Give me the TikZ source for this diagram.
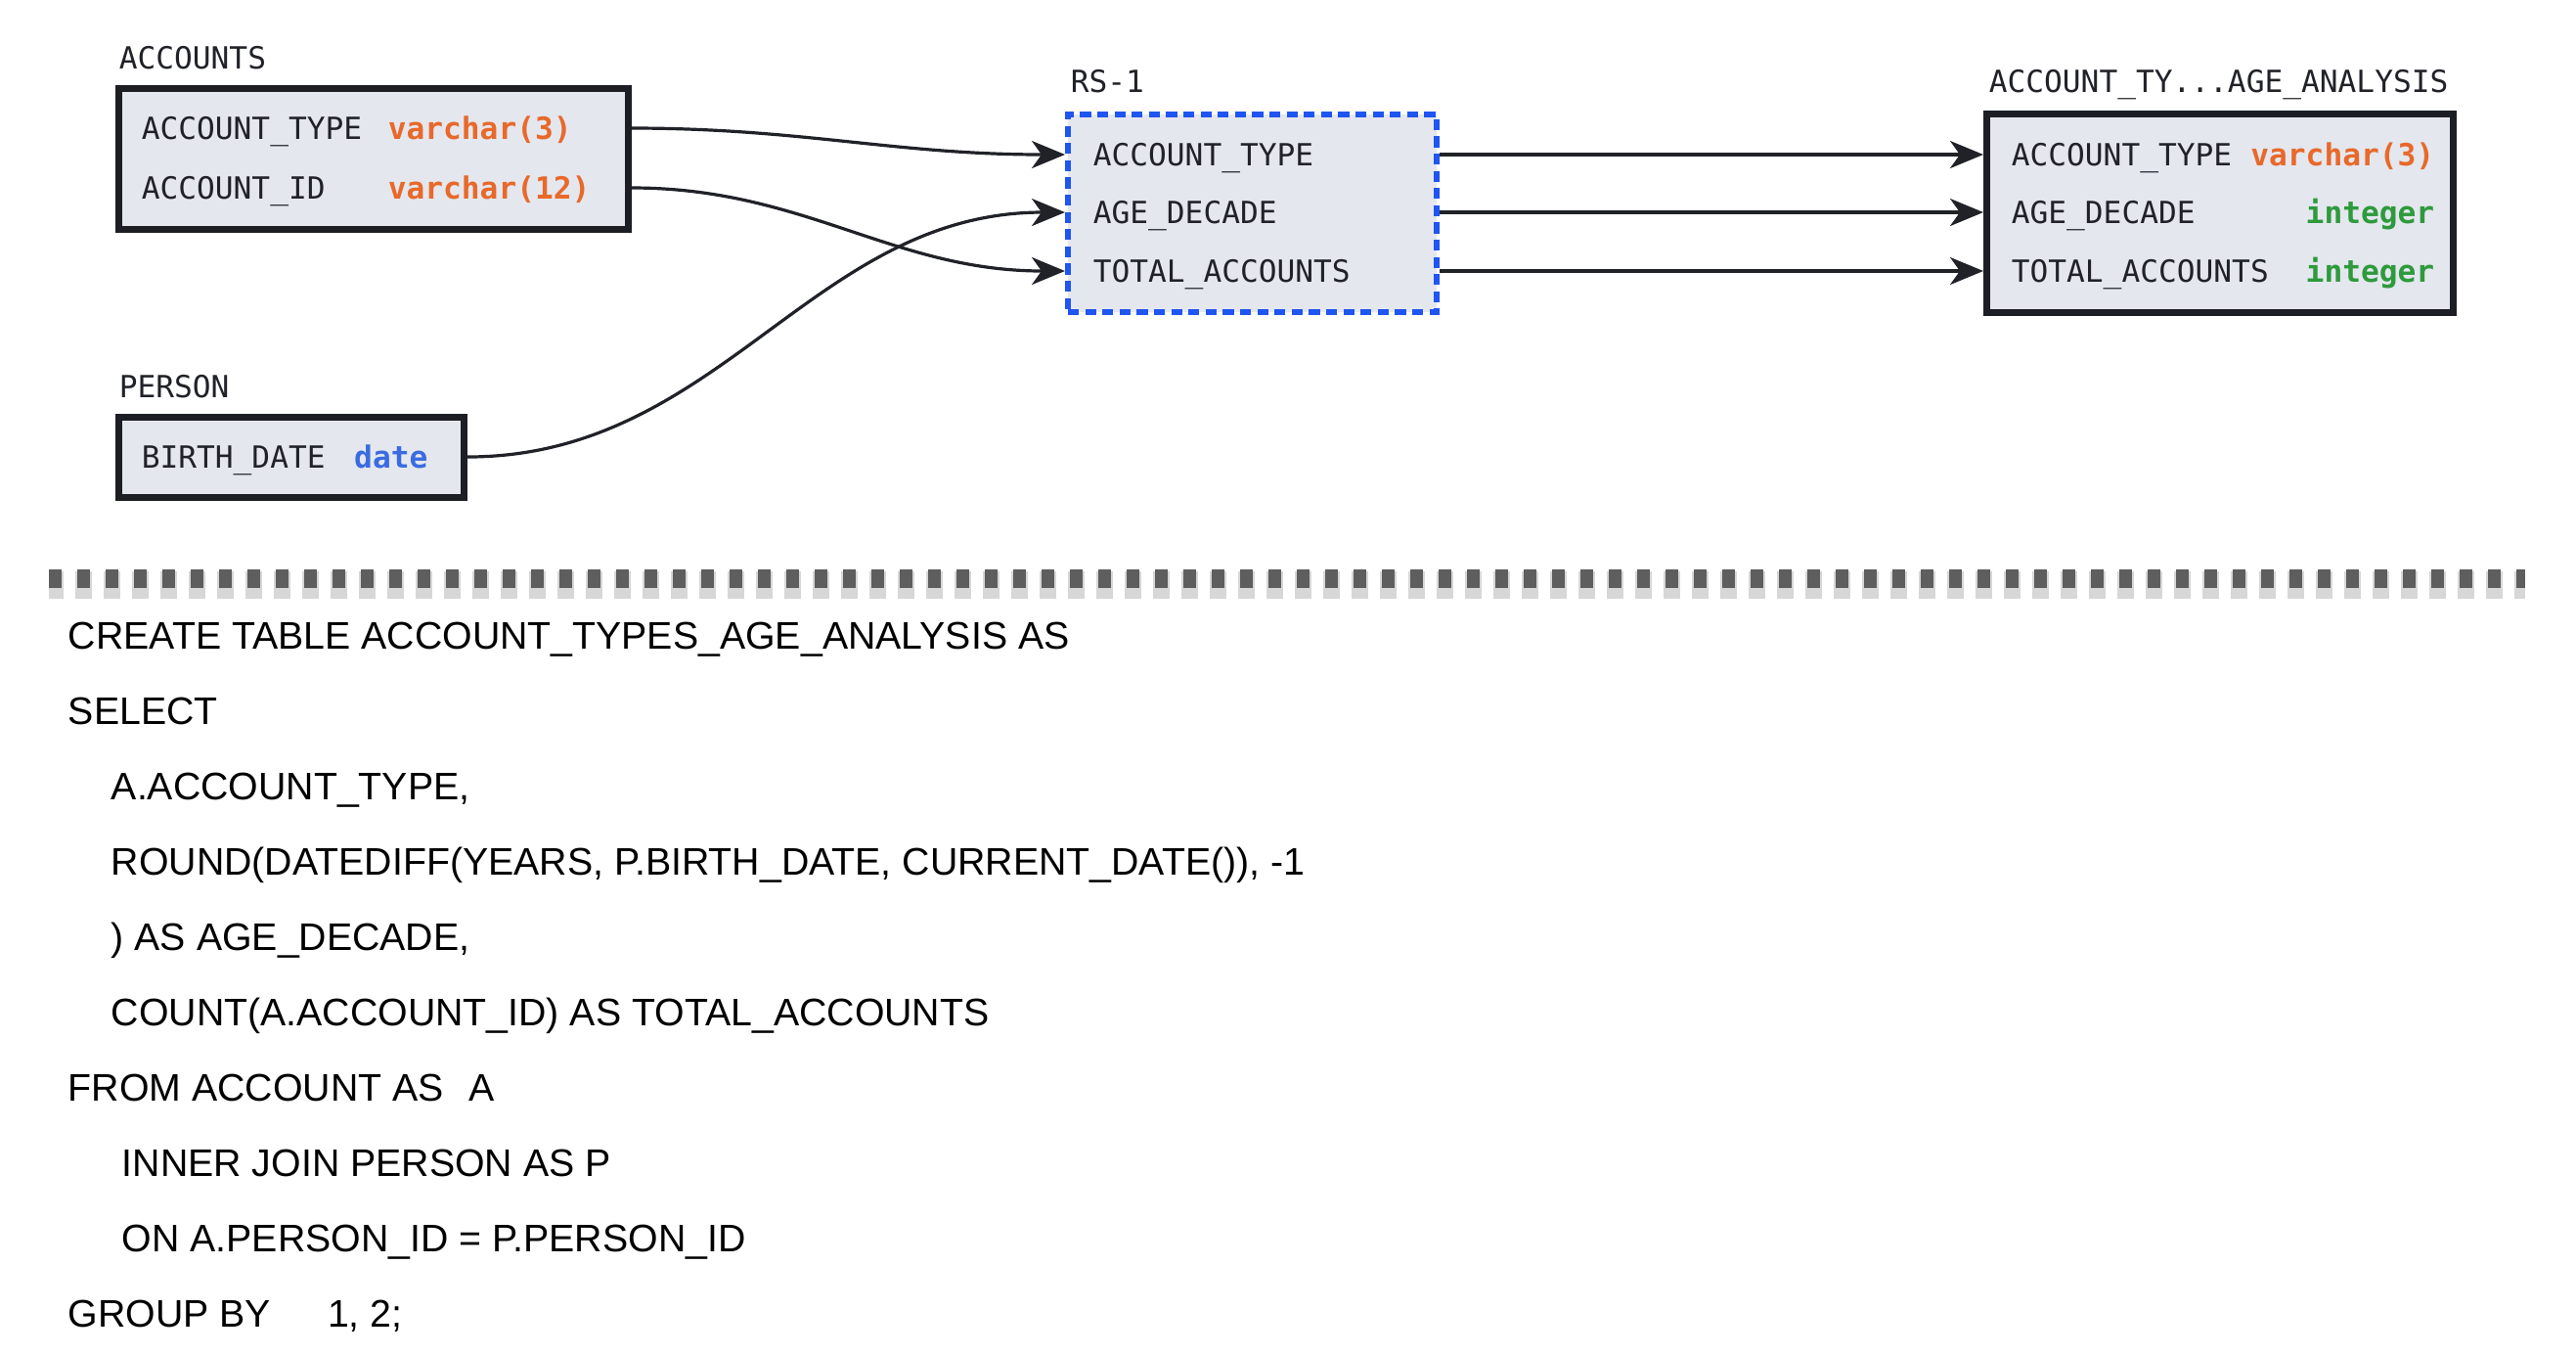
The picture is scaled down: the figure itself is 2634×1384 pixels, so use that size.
\documentclass[tikz,border=0pt]{standalone}
\usepackage{fontspec}
\setmainfont{Liberation Sans}
\newfontfamily\colfont{DejaVu Sans Mono}
\usetikzlibrary{arrows.meta,positioning}

\definecolor{boxfill}{HTML}{E4E7EE}
\definecolor{boxline}{HTML}{1C1E24}
\definecolor{ink}{HTML}{202228}
\definecolor{typeorange}{HTML}{E8692A}
\definecolor{typegreen}{HTML}{2E9A3C}
\definecolor{typeblue}{HTML}{3A6BE0}
\definecolor{rsblue}{HTML}{1F55F0}
\definecolor{sepgray}{HTML}{5E5E5E}

\tikzset{
  tablebox/.style={draw=boxline, fill=boxfill, line width=1.7pt, inner sep=0pt, anchor=north west},
  rsbox/.style={draw=rsblue, fill=boxfill, line width=1.5pt, dash pattern=on 2.8pt off 1.6pt, inner sep=0pt, anchor=north west},
  colname/.style={font=\fontsize{7.8}{9}\selectfont\colfont, text=ink, inner sep=0pt, text height=5.7pt, text depth=0pt, anchor=west},
  coltype/.style={colname, font=\fontsize{7.8}{9}\selectfont\colfont\bfseries, text=#1},
  tabletitle/.style={colname, anchor=south west},
  flow/.style={draw=ink, line width=0.8pt, -{Stealth[length=8.5pt, width=7pt, inset=2.5pt]}},
  sqlline/.style={font=\fontsize{9.82}{11}\selectfont, text=black, inner sep=0pt, text height=7pt, text depth=0pt, anchor=west},
}

\begin{document}
\begin{tikzpicture}[x=0.25pt, y=-0.25pt]
  \useasboundingbox (0,0) rectangle (2634,1384);

  % source tables
  \node[tablebox, minimum width=130.3pt, minimum height=36pt] (accounts) at (118,87) {};
  \node[tabletitle] (accounts-title) at ([shift={(0.75pt,4pt)}]accounts.north west) {ACCOUNTS};
  \node[colname] (acc-type) at (144,131) {ACCOUNT\_TYPE};
  \node[coltype=typeorange] (acc-type-t) at (396,131) {varchar(3)};
  \node[colname] (acc-id) at (144,192) {ACCOUNT\_ID};
  \node[coltype=typeorange] (acc-id-t) at (396,192) {varchar(12)};

  \node[tablebox, minimum width=88.3pt, minimum height=20.5pt] (person) at (118,423) {};
  \node[tabletitle] (person-title) at ([shift={(0.75pt,4pt)}]person.north west) {PERSON};
  \node[colname] (per-birth) at (144,467) {BIRTH\_DATE};
  \node[coltype=typeblue, right=7pt of per-birth] (per-birth-t) {date};

  % result set
  \node[rsbox, minimum width=94.3pt, minimum height=50.5pt] (rs1) at (1089,114) {};
  \node[tabletitle] (rs1-title) at ([shift={(1.25pt,4.6pt)}]rs1.north west) {RS-1};
  \node[colname] (rs-type) at (1117,158) {ACCOUNT\_TYPE};
  \node[colname] (rs-decade) at (1117,217) {AGE\_DECADE};
  \node[colname] (rs-total) at (1117,277) {TOTAL\_ACCOUNTS};

  % target table
  \node[tablebox, minimum width=119.3pt, minimum height=50.8pt] (result) at (2028,113) {};
  \node[tabletitle] (result-title) at ([shift={(1.25pt,4.4pt)}]result.north west) {ACCOUNT\_TY...AGE\_ANALYSIS};
  \node[colname] (res-type) at (2056,158) {ACCOUNT\_TYPE};
  \node[coltype=typeorange, anchor=east] (res-type-t) at (2490,158) {varchar(3)};
  \node[colname] (res-decade) at (2056,217) {AGE\_DECADE};
  \node[coltype=typegreen, anchor=east] (res-decade-t) at (2490,217) {integer};
  \node[colname] (res-total) at (2056,277) {TOTAL\_ACCOUNTS};
  \node[coltype=typegreen, anchor=east] (res-total-t) at (2490,277) {integer};

  % lineage
  \draw[flow] (accounts.east |- acc-type) to[out=0, in=180] (rs1.west |- rs-type);
  \draw[flow] (accounts.east |- acc-id) to[out=0, in=180] (rs1.west |- rs-total);
  \draw[flow] (person.east |- per-birth) to[out=0, in=180] (rs1.west |- rs-decade);
  \foreach \row in {type,decade,total}
    \draw[flow] (rs1.east |- rs-\row) -- (result.west |- res-\row);

  % separator
  \draw[sepgray, opacity=.25, line width=7pt, dash pattern=on 4.25pt off 3pt, dash phase=.5pt] (50,598) -- (2582,598);
  \draw[sepgray, line width=4.75pt, dash pattern=on 3.25pt off 4pt] (50,591) -- (2582,591);

  % query
  \node[sqlline] (sql-1) at (69,649) {CREATE TABLE ACCOUNT\_TYPES\_AGE\_ANALYSIS AS};
  \node[sqlline] (sql-2) at (69,726) {SELECT};
  \node[sqlline] (sql-3) at (113,803) {A.ACCOUNT\_TYPE,};
  \node[sqlline] (sql-4) at (113,880) {ROUND(DATEDIFF(YEARS, P.BIRTH\_DATE, CURRENT\_DATE()), -1};
  \node[sqlline] (sql-5) at (113,957) {) AS AGE\_DECADE,};
  \node[sqlline] (sql-6) at (113,1034) {COUNT(A.ACCOUNT\_ID) AS TOTAL\_ACCOUNTS};
  \node[sqlline] (sql-7) at (69,1111) {FROM ACCOUNT AS\hspace{6.5pt}A};
  \node[sqlline] (sql-8) at (124,1188) {INNER JOIN PERSON AS P};
  \node[sqlline] (sql-9) at (124,1265) {ON A.PERSON\_ID = P.PERSON\_ID};
  \node[sqlline] (sql-10) at (69,1342) {GROUP BY\hspace{14.5pt}1, 2;};
\end{tikzpicture}
\end{document}
